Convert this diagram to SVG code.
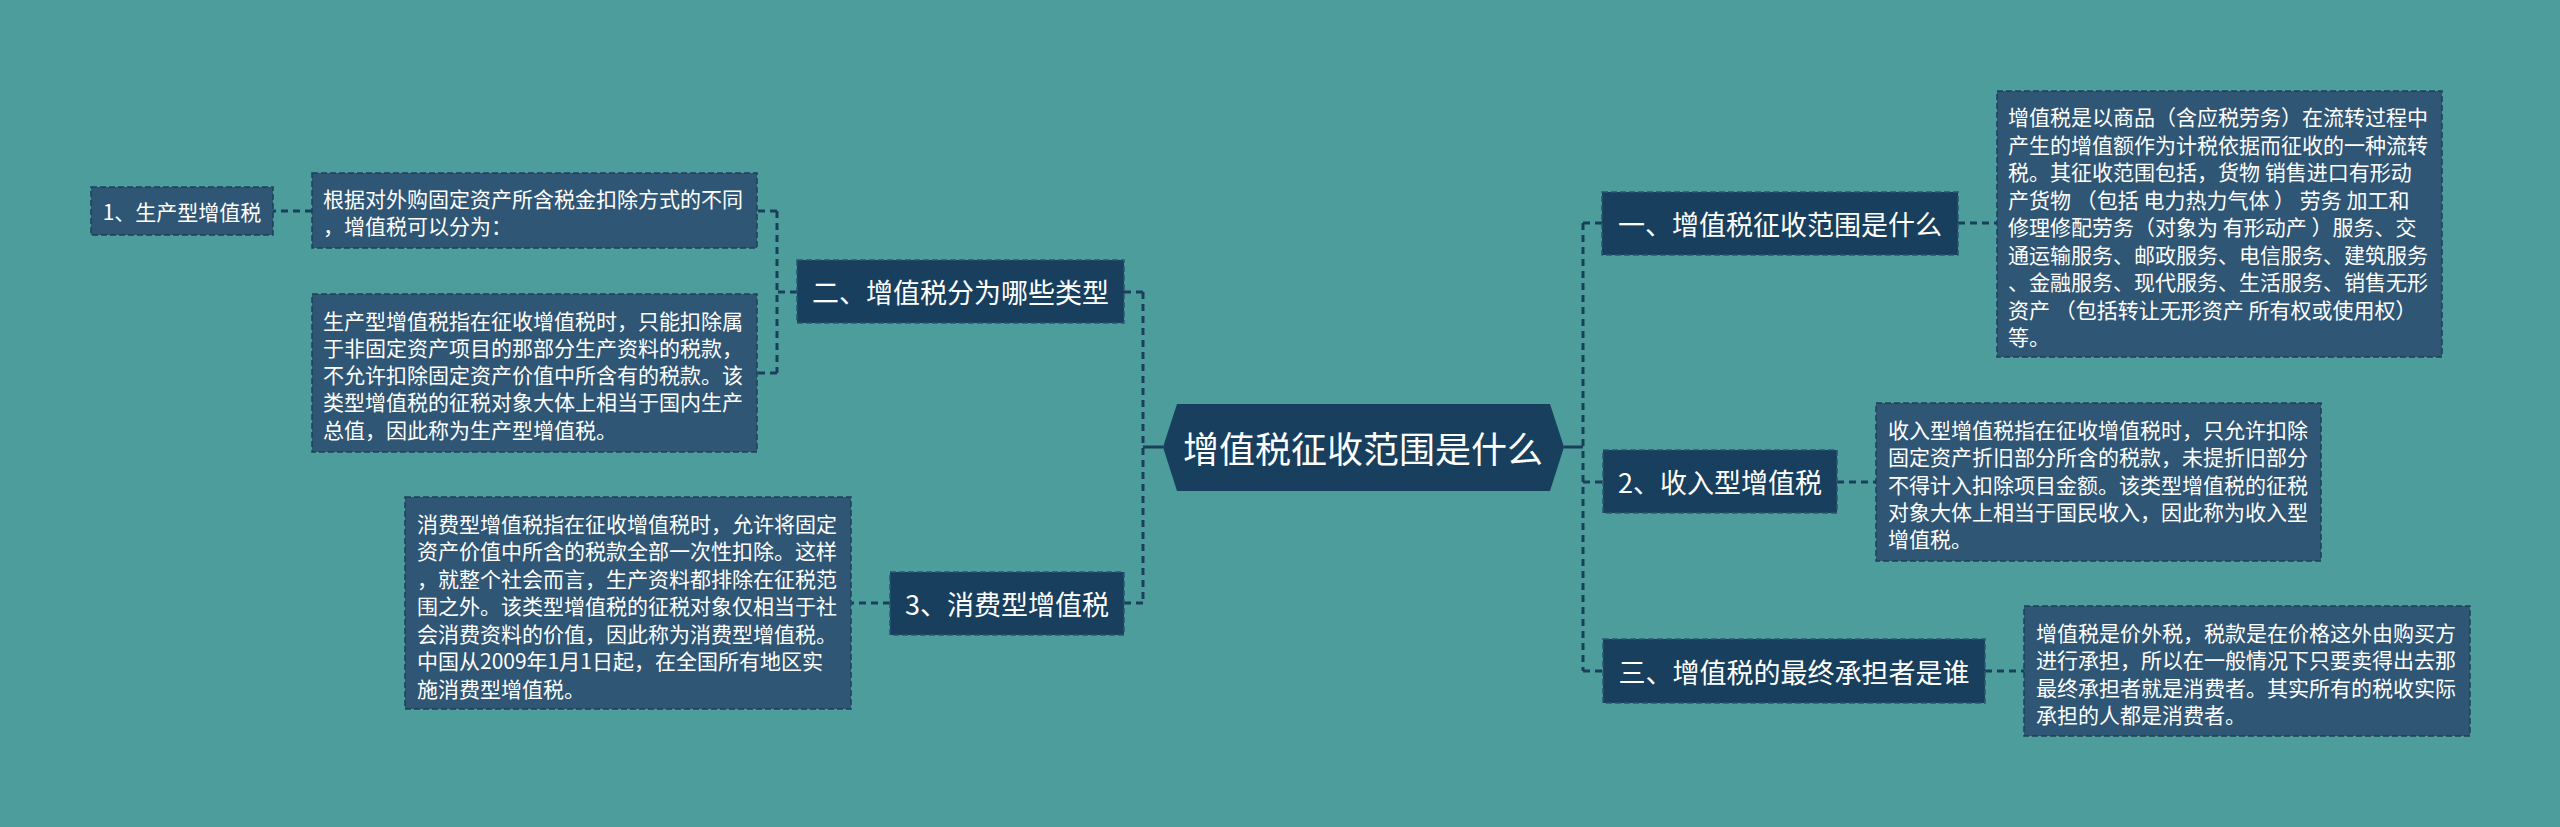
<svg xmlns="http://www.w3.org/2000/svg" width="2560" height="827" viewBox="0 0 2560 827">
<style>
  .bg { fill: #4E9D9D; }
  .main { fill: #183F5D; stroke: #2B5570; stroke-width: 1.5; stroke-dasharray: 6 3; }
  .leaf { fill: #2F5675; stroke: #1E4058; stroke-width: 1.5; stroke-dasharray: 6 3; }
  .hex { fill: #183F5D; }
  text { font-family: "Noto Sans CJK SC", "Noto Sans", sans-serif; fill: #FFFFFF; }
  .t-center { font-size: 36px; text-anchor: middle; dominant-baseline: central; }
  .t-main { font-size: 27px; text-anchor: middle; dominant-baseline: central; }
  .t-small { font-size: 21px; text-anchor: middle; dominant-baseline: central; }
  .t-leaf { font-size: 21px; dominant-baseline: central; }
  .solid { fill: none; stroke: #1B3F5A; stroke-width: 3; }
  .dash { fill: none; stroke: #1B3F5A; stroke-width: 3; stroke-dasharray: 7 5; }
</style>
<rect class="bg" x="0" y="0" width="2560" height="827"/>

<g id="connectors">
  <path class="solid" d="M1163 447 H1143"/>
  <path class="solid" d="M1564 447 H1583"/>
  <path class="dash" d="M1143 292 V603"/>
  <path class="dash" d="M1124 292 H1143"/>
  <path class="dash" d="M1124 603 H1143"/>
  <path class="dash" d="M1583 223 V671"/>
  <path class="dash" d="M1583 223 H1602"/>
  <path class="dash" d="M1583 482 H1603"/>
  <path class="dash" d="M1583 671 H1603"/>
  <path class="dash" d="M797 292 H777"/>
  <path class="dash" d="M777 211 V373"/>
  <path class="dash" d="M777 211 H757"/>
  <path class="dash" d="M777 373 H757"/>
  <path class="dash" d="M312 211 H273"/>
  <path class="dash" d="M890 603 H852"/>
  <path class="dash" d="M1958 223 H1997"/>
  <path class="dash" d="M1837 482 H1876"/>
  <path class="dash" d="M1985 671 H2024"/>
</g>

<g id="center">
  <polygon class="hex" points="1163,447 1177,404 1550,404 1564,447 1550,491 1177,491"/>
  <text class="t-center" x="1363" y="447">增值税征收范围是什么</text>
</g>

<g id="n-er">
  <rect class="main" x="797" y="260" width="327" height="63"/>
  <text class="t-main" x="960.5" y="291.5">二、增值税分为哪些类型</text>
</g>

<g id="n-xiaofei">
  <rect class="main" x="890" y="572" width="234" height="63"/>
  <text class="t-main" x="1007" y="603.5">3、消费型增值税</text>
</g>

<g id="n-shengchan">
  <rect class="leaf" x="91" y="187" width="182" height="48"/>
  <text class="t-small" x="182" y="211">1、生产型增值税</text>
</g>

<g id="leaf-genju">
  <rect class="leaf" x="312" y="173" width="445" height="75"/>
  <text class="t-leaf" x="323" y="198">根据对外购固定资产所含税金扣除方式的不同</text>
  <text class="t-leaf" x="323" y="225.3">，增值税可以分为：</text>
</g>

<g id="leaf-shengchan">
  <rect class="leaf" x="312" y="294" width="445" height="158"/>
  <text class="t-leaf" x="323" y="319.5">生产型增值税指在征收增值税时，只能扣除属</text>
  <text class="t-leaf" x="323" y="346.8">于非固定资产项目的那部分生产资料的税款，</text>
  <text class="t-leaf" x="323" y="374.1">不允许扣除固定资产价值中所含有的税款。该</text>
  <text class="t-leaf" x="323" y="401.4">类型增值税的征税对象大体上相当于国内生产</text>
  <text class="t-leaf" x="323" y="428.7">总值，因此称为生产型增值税。</text>
</g>

<g id="leaf-xiaofei">
  <rect class="leaf" x="405" y="497" width="446" height="212"/>
  <text class="t-leaf" x="417" y="522.6">消费型增值税指在征收增值税时，允许将固定</text>
  <text class="t-leaf" x="417" y="550.1">资产价值中所含的税款全部一次性扣除。这样</text>
  <text class="t-leaf" x="417" y="577.6">，就整个社会而言，生产资料都排除在征税范</text>
  <text class="t-leaf" x="417" y="605.1">围之外。该类型增值税的征税对象仅相当于社</text>
  <text class="t-leaf" x="417" y="632.6">会消费资料的价值，因此称为消费型增值税。</text>
  <text class="t-leaf" x="417" y="660.1">中国从2009年1月1日起，在全国所有地区实</text>
  <text class="t-leaf" x="417" y="687.6">施消费型增值税。</text>
</g>

<g id="n-yi">
  <rect class="main" x="1602" y="192" width="356" height="63"/>
  <text class="t-main" x="1780" y="223.5">一、增值税征收范围是什么</text>
</g>

<g id="n-shouru">
  <rect class="main" x="1603" y="450" width="234" height="63"/>
  <text class="t-main" x="1720" y="481.5">2、收入型增值税</text>
</g>

<g id="n-san">
  <rect class="main" x="1603" y="639" width="382" height="64"/>
  <text class="t-main" x="1794" y="671">三、增值税的最终承担者是谁</text>
</g>

<g id="leaf-fanwei">
  <rect class="leaf" x="1997" y="91" width="445" height="266"/>
  <text class="t-leaf" x="2008" y="116">增值税是以商品（含应税劳务）在流转过程中</text>
  <text class="t-leaf" x="2008" y="143.5">产生的增值额作为计税依据而征收的一种流转</text>
  <text class="t-leaf" x="2008" y="171">税。其征收范围包括，货物 销售进口有形动</text>
  <text class="t-leaf" x="2008" y="198.5">产货物 （包括 电力热力气体 ） 劳务 加工和</text>
  <text class="t-leaf" x="2008" y="226">修理修配劳务（对象为 有形动产 ）服务、交</text>
  <text class="t-leaf" x="2008" y="253.5">通运输服务、邮政服务、电信服务、建筑服务</text>
  <text class="t-leaf" x="2008" y="281">、金融服务、现代服务、生活服务、销售无形</text>
  <text class="t-leaf" x="2008" y="308.5">资产 （包括转让无形资产 所有权或使用权）</text>
  <text class="t-leaf" x="2008" y="336">等。</text>
</g>

<g id="leaf-shouru">
  <rect class="leaf" x="1876" y="403" width="445" height="158"/>
  <text class="t-leaf" x="1888" y="429">收入型增值税指在征收增值税时，只允许扣除</text>
  <text class="t-leaf" x="1888" y="456.3">固定资产折旧部分所含的税款，未提折旧部分</text>
  <text class="t-leaf" x="1888" y="483.6">不得计入扣除项目金额。该类型增值税的征税</text>
  <text class="t-leaf" x="1888" y="510.9">对象大体上相当于国民收入，因此称为收入型</text>
  <text class="t-leaf" x="1888" y="538.2">增值税。</text>
</g>

<g id="leaf-chengdan">
  <rect class="leaf" x="2024" y="606" width="446" height="130"/>
  <text class="t-leaf" x="2036" y="632">增值税是价外税，税款是在价格这外由购买方</text>
  <text class="t-leaf" x="2036" y="659.3">进行承担，所以在一般情况下只要卖得出去那</text>
  <text class="t-leaf" x="2036" y="686.6">最终承担者就是消费者。其实所有的税收实际</text>
  <text class="t-leaf" x="2036" y="713.9">承担的人都是消费者。</text>
</g>
</svg>
